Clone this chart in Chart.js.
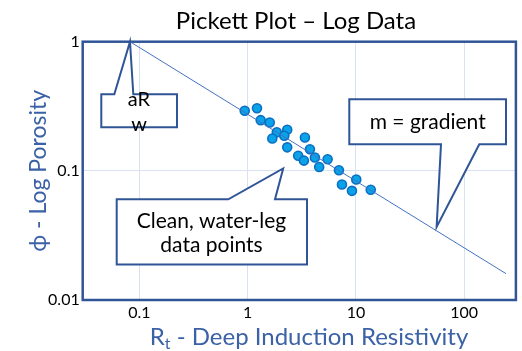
<!DOCTYPE html>
<html>
<head>
<meta charset="utf-8">
<script src="https://cdn.jsdelivr.net/npm/chart.js@4.4.0/dist/chart.umd.min.js"></script>
<style>
    html, body { margin: 0; padding: 0; background: #ffffff; }
    #wrap { width: 522px; height: 351px; position: relative; }
</style>
</head>
<body>
<div id="wrap"><canvas id="pickett"></canvas></div>
<script>
// --- 1. Data ---
const rtPoints = [0.94, 1.22, 1.32, 1.60, 1.86, 2.32, 1.69, 2.18, 3.38, 2.32, 3.76, 2.93, 4.18, 3.31, 5.48, 4.58, 6.97, 10.07, 7.43, 9.19, 13.7];
const phiPoints = [0.292, 0.305, 0.247, 0.237, 0.199, 0.208, 0.178, 0.187, 0.181, 0.152, 0.147, 0.131, 0.127, 0.120, 0.123, 0.107, 0.101, 0.0858, 0.0785, 0.070, 0.0713];

// water line (aRw at phi = 1, slope m)
const lineRt = [0.082, 243];
const linePhi = [1, 0.016];

const xTicks = [0.1, 1, 10, 100];
const yTicks = [0.01, 0.1, 1];

// callout pointer tips, in data units
const tipAR = [0.082, 1];
const tipGradient = [55.6, 0.0368];
const tipClean = [2.13, 0.1044];

const BLUE_DARK = "#2F5597";
const BLUE_TEXT = "#3B62A6";
const FONT = "Lato, 'Open Sans', sans-serif";

// --- 2. Custom drawing: frame, titles, callouts ---
function drawCallout(ctx, box, notch, tip, lines) {
    // box = [l, t, r, b], notch = [side, a, b] where the pointer leaves that side
    const [l, t, r, b] = box;
    const [side, n1, n2] = notch;
    ctx.beginPath();
    if (side === "top") {
        ctx.moveTo(l, t); ctx.lineTo(n1, t); ctx.lineTo(tip.x, tip.y); ctx.lineTo(n2, t);
        ctx.lineTo(r, t); ctx.lineTo(r, b); ctx.lineTo(l, b);
    } else {
        ctx.moveTo(l, t); ctx.lineTo(r, t); ctx.lineTo(r, b);
        ctx.lineTo(n2, b); ctx.lineTo(tip.x, tip.y); ctx.lineTo(n1, b); ctx.lineTo(l, b);
    }
    ctx.closePath();
    ctx.fillStyle = "#ffffff";
    ctx.fill();
    ctx.lineWidth = 2;
    ctx.strokeStyle = BLUE_DARK;
    ctx.lineJoin = "miter";
    ctx.stroke();

    ctx.fillStyle = "#000000";
    ctx.textAlign = "center";
    ctx.textBaseline = "alphabetic";
    lines.forEach(ln => {
        ctx.font = ln.size + "px " + FONT;
        ctx.fillText(ln.text, ln.x, ln.y);
    });
}

const pickettPlugin = {
    id: "pickettExtras",
    beforeDatasetsDraw(chart) {
        const { ctx, chartArea } = chart;
        ctx.save();
        ctx.lineWidth = 2.5;
        ctx.strokeStyle = BLUE_DARK;
        ctx.strokeRect(chartArea.left, chartArea.top, chartArea.right - chartArea.left, chartArea.bottom - chartArea.top);
        ctx.restore();
    },
    afterDraw(chart) {
        const { ctx } = chart;
        const xs = chart.scales.x, ys = chart.scales.y;
        const pt = p => ({ x: xs.getPixelForValue(p[0]), y: ys.getPixelForValue(p[1]) });
        ctx.save();

        // chart title
        ctx.fillStyle = "#000000";
        ctx.font = "24px " + FONT;
        ctx.textAlign = "center";
        ctx.textBaseline = "alphabetic";
        ctx.fillText("Pickett Plot \u2013 Log Data", 296, 29);

        // x axis title with subscript t
        const big = "24px " + FONT, small = "16px " + FONT;
        ctx.font = big;
        const wR = ctx.measureText("R").width;
        const rest = " - Deep Induction Resistivity";
        const wRest = ctx.measureText(rest).width;
        ctx.font = small;
        const wT = ctx.measureText("t").width;
        let x0 = 309 - (wR + wT + wRest) / 2;
        const base = 345;
        ctx.fillStyle = BLUE_TEXT;
        ctx.textAlign = "left";
        ctx.font = big; ctx.fillText("R", x0, base);
        ctx.font = small; ctx.fillText("t", x0 + wR, base + 4);
        ctx.font = big; ctx.fillText(rest, x0 + wR + wT, base);

        // callouts
        drawCallout(ctx, [101.3, 94.3, 177, 127.3], ["top", 114.3, 133.3], pt(tipAR), [
            { text: "aR", x: 139, y: 105.5, size: 20 },
            { text: "w", x: 139, y: 131, size: 20 }
        ]);
        drawCallout(ctx, [349.3, 99.3, 506, 144.3], ["bottom", 441, 479.3], pt(tipGradient), [
            { text: "m = gradient", x: 427.7, y: 128.5, size: 21 }
        ]);
        drawCallout(ctx, [116.7, 199.3, 307, 264.5], ["top", 228.3, 275], pt(tipClean), [
            { text: "Clean, water-leg", x: 211.5, y: 227.5, size: 21 },
            { text: "data points", x: 211.5, y: 251.5, size: 21 }
        ]);
        ctx.restore();
    }
};

// --- 3. Chart setup ---
const ctx = document.getElementById("pickett").getContext("2d");
new Chart(ctx, {
    data: {
        datasets: [
            {
                type: "line",
                label: "Water line",
                data: lineRt.map((v, i) => ({ x: v, y: linePhi[i] })),
                borderColor: "#4472C4",
                borderWidth: 1,
                pointRadius: 0,
                fill: false
            },
            {
                type: "scatter",
                label: "Log data",
                data: rtPoints.map((v, i) => ({ x: v, y: phiPoints[i] })),
                backgroundColor: "#0AA2E8",
                borderColor: "#0B6FC2",
                borderWidth: 1.6,
                pointRadius: 4.5
            }
        ]
    },
    options: {
        responsive: true,
        maintainAspectRatio: false,
        animation: false,
        layout: { padding: { top: 41.7, right: 4.3, left: 0, bottom: 0 } },
        plugins: {
            legend: { display: false },
            tooltip: { enabled: false },
            title: { display: false }
        },
        scales: {
            x: {
                type: "logarithmic",
                min: 0.03,
                max: 300,
                afterBuildTicks: scale => { scale.ticks = xTicks.map(v => ({ value: v })); },
                afterFit: scale => { scale.height = 51; },
                grid: { color: "#D9E2F3", lineWidth: 1, drawTicks: false },
                border: { display: false },
                ticks: {
                    color: "#000000",
                    font: { family: FONT, size: 16 },
                    padding: 3,
                    maxRotation: 0,
                    autoSkip: false,
                    callback: v => String(v)
                }
            },
            y: {
                type: "logarithmic",
                min: 0.01,
                max: 1,
                afterBuildTicks: scale => { scale.ticks = yTicks.map(v => ({ value: v })); },
                afterFit: scale => { scale.width = 82.7; },
                grid: { color: "#D9E2F3", lineWidth: 1, drawTicks: false },
                border: { display: false },
                title: {
                    display: true,
                    text: "\u03D5 - Log Porosity",
                    color: BLUE_TEXT,
                    font: { family: FONT, size: 23 },
                    padding: { top: 25, bottom: 0 }
                },
                ticks: {
                    color: "#000000",
                    font: { family: FONT, size: 16 },
                    padding: 3,
                    autoSkip: false,
                    callback: v => String(v)
                }
            }
        }
    },
    plugins: [pickettPlugin]
});
</script>
</body>
</html>
